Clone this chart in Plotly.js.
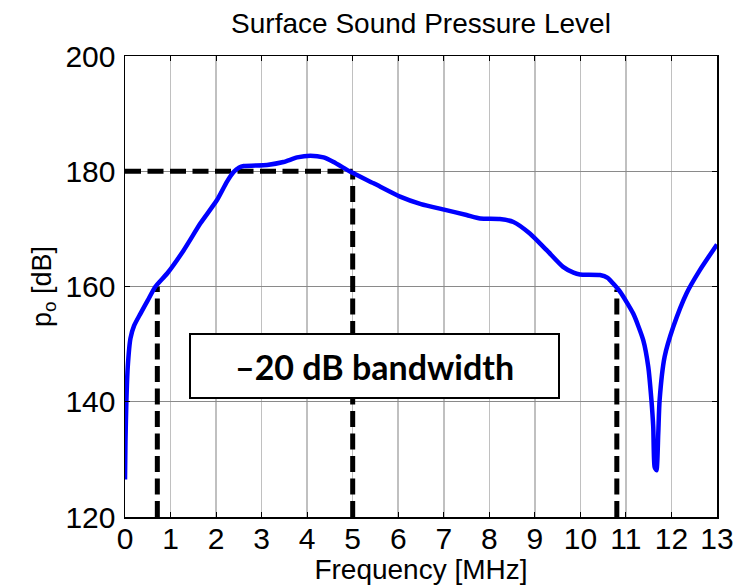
<!DOCTYPE html>
<html>
<head>
<meta charset="utf-8">
<script src="https://cdn.plot.ly/plotly-3.0.1.min.js"></script>
<style>html,body{margin:0;padding:0;background:#fff;}#chart{width:746px;height:588px;}</style>
</head>
<body>
<div id="chart"></div>
<script>
// Frequency (MHz) and surface sound pressure level (dB)
const freq = [0, 0.01, 0.03, 0.06, 0.12, 0.2, 0.34, 0.5, 0.67, 0.93, 1.29, 1.66, 2.02, 2.24, 2.39, 2.5, 2.61, 3.12, 3.48, 3.78, 4.07, 4.36, 4.58, 4.95, 5.46, 6.04, 6.5, 7.03, 7.5, 7.8, 8.23, 8.53, 8.89, 9.26, 9.62, 9.85, 9.99, 10.43, 10.6, 10.72, 10.87, 11.16, 11.38, 11.49, 11.56, 11.6, 11.63, 11.67, 11.71, 11.74, 11.85, 12.04, 12.33, 12.62, 13];
const spl  = [126.5, 133, 140, 146, 151, 153.2, 155.3, 157.6, 160, 162.3, 166.3, 171, 175, 178.2, 179.9, 180.6, 180.9, 181.1, 181.6, 182.4, 182.7, 182.4, 181.6, 179.9, 177.9, 175.6, 174.3, 173.3, 172.4, 171.8, 171.7, 171.2, 169.2, 166.3, 163.4, 162.4, 162.1, 162.0, 161.5, 160.5, 159.1, 155.3, 150.7, 146.1, 140.3, 135.6, 128.7, 128.1, 134.5, 140.3, 147.8, 153.0, 158.8, 162.8, 167.3];

// -20 dB bandwidth guide lines
const refLevel = 180;
const bwLevel = 160;
const peakFreq = 5.0;
const bwLow = 0.71;
const bwHigh = 10.8;
const yMin = 120;

const xTicks = [0,1,2,3,4,5,6,7,8,9,10,11,12,13];
const yTicks = [120,140,160,180,200];
const annText = '\u201320 dB bandwidth';

const dashStyle = {color:'#000', width:5, dash:'16px,6.5px'};
const traces = [
  {x:[0, peakFreq], y:[refLevel, refLevel], mode:'lines', line:dashStyle, hoverinfo:'skip'},
  {x:[peakFreq, peakFreq], y:[yMin, refLevel], mode:'lines', line:dashStyle, hoverinfo:'skip'},
  {x:[bwLow, bwLow], y:[yMin, bwLevel], mode:'lines', line:dashStyle, hoverinfo:'skip'},
  {x:[bwHigh, bwHigh], y:[yMin, bwLevel-0.5], mode:'lines', line:dashStyle, hoverinfo:'skip'},
  {x:freq, y:spl, mode:'lines', line:{color:'#0000ff', width:4.5, shape:'spline', smoothing:0.6}}
];

const axisFont = {family:'Liberation Sans, Arial, sans-serif', size:30, color:'#000'};
const layout = {
  width:746, height:588,
  margin:{l:124.5, r:29, t:56, b:71, pad:0},
  paper_bgcolor:'#fff', plot_bgcolor:'#fff',
  showlegend:false,
  title:{text:'Surface Sound Pressure Level', font:{family:'Liberation Sans, Arial, sans-serif', size:28, color:'#000'},
         x:0.5, xref:'paper', xanchor:'center', y:0.96, yref:'container', yanchor:'middle'},
  xaxis:{range:[0,13], tickvals:xTicks, ticktext:xTicks.map(String), ticks:'inside', ticklen:5, tickwidth:1, tickcolor:'#000',
         showline:true, linecolor:'#000', linewidth:1.5, mirror:'allticks',
         showgrid:true, gridcolor:'#c0c0c0', gridwidth:1.5, zeroline:false,
         tickfont:axisFont, ticklabelstandoff:-6,
         title:{text:'Frequency [MHz]', font:{family:'Liberation Sans, Arial, sans-serif', size:28, color:'#000'}, standoff:4}},
  yaxis:{range:[120,200], tickvals:yTicks, ticktext:yTicks.map(String), ticks:'inside', ticklen:5, tickwidth:1, tickcolor:'#000',
         showline:true, linecolor:'#000', linewidth:1.5, mirror:'allticks',
         showgrid:true, gridcolor:'#8a8a8a', gridwidth:1, zeroline:false,
         tickfont:axisFont, ticklabelstandoff:2,
         title:{text:'p<sub>o</sub> [dB]', font:{family:'Liberation Sans, Arial, sans-serif', size:27, color:'#000'}, standoff:6}},
  annotations:[{x:5.48, y:146.2, xref:'x', yref:'y', text:annText, showarrow:false,
    font:{family:'Lato, Open Sans, sans-serif', size:34, color:'#000', weight:700},
    bgcolor:'#fff', bordercolor:'#000', borderwidth:2, borderpad:0, width:367, height:62}]
};
Plotly.newPlot('chart', traces, layout, {displayModeBar:false, staticPlot:true});
</script>
</body>
</html>
